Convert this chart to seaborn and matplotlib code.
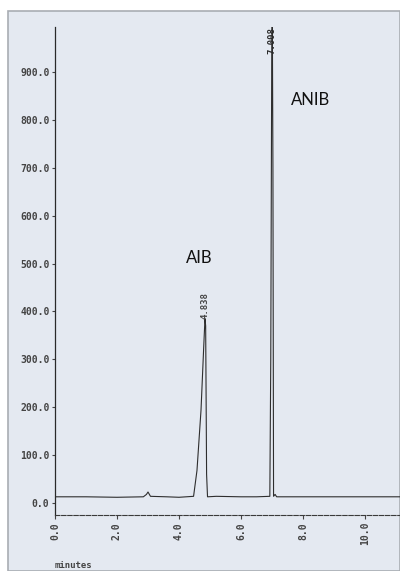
import matplotlib
matplotlib.use("Agg")
import matplotlib.pyplot as plt
import matplotlib.patches as mpatches
import seaborn as sns
import pandas as pd

# ---- data ----
time_min = [0.0, 1.0, 2.0, 2.85, 2.95, 3.0, 3.08, 3.6, 4.0, 4.47, 4.58, 4.71,
            4.80, 4.838, 4.86, 4.89, 4.92, 5.2, 6.0, 6.5, 6.93, 6.96, 6.99,
            7.008, 7.03, 7.05, 7.10, 7.15, 8.0, 9.0, 10.0, 11.2]
signal = [13, 13, 12, 13, 18, 23, 14, 13, 12, 14, 68, 194,
          330, 385, 370, 60, 13, 14, 13, 13, 14, 300, 900,
          1050, 700, 14, 18, 13, 13, 13, 13, 13]

peak_times = [4.838, 7.008]
peak_tags = ["4.838", "7.008"]
peak_heights = [385, 993]
compound_names = ["AIB", "ANIB"]
compound_pos_x = [4.65, 8.25]
compound_pos_y = [511, 841]

y_ticks = [0, 100, 200, 300, 400, 500, 600, 700, 800, 900]
x_ticks = [0, 2, 4, 6, 8, 10]

df = pd.DataFrame({"minutes": time_min, "signal": signal})

sns.set_style("ticks")
plt.rcParams["font.family"] = ["DejaVu Sans"]

W, H = 400, 571
fig = plt.figure(figsize=(W / 100, H / 100), dpi=100)
fig.patch.set_facecolor("white")

# scanned paper background
paper = mpatches.Rectangle((8 / W, 0), 1 - 8 / W, (H - 11) / H,
                           transform=fig.transFigure, facecolor="#e4e9f1",
                           edgecolor="#a9adb3", linewidth=1.2, zorder=-10)
fig.add_artist(paper)

ax = fig.add_axes([55 / W, (H - 515) / H, 1 - 55 / W, (515 - 27) / H])
ax.set_zorder(5)
ax.set_facecolor("none")

sns.lineplot(data=df, x="minutes", y="signal", ax=ax, estimator=None,
             sort=False, color="#2e2e2e", linewidth=0.8)

ax.set_xlim(0, (400 - 55) / 31.0)
ax.set_ylim(-25, 994)

mono = "DejaVu Sans Mono"
tick_col = "#444444"
ax.set_yticks(y_ticks)
ax.set_yticklabels([f"{v:.1f}" for v in y_ticks], fontfamily=mono,
                   fontsize=7, fontweight="bold", color=tick_col)
ax.set_xticks(x_ticks)
ax.set_xticklabels([f"{v:.1f}" for v in x_ticks], fontfamily=mono,
                   fontsize=7, fontweight="bold", color=tick_col,
                   rotation=90)
ax.tick_params(axis="y", length=2.5, width=0.8, pad=1.5, colors=tick_col)
ax.tick_params(axis="x", length=3, width=0.8, pad=2, colors=tick_col)
ax.set_xlabel("")
ax.set_ylabel("")

for s in ["top", "right"]:
    ax.spines[s].set_visible(False)
ax.spines["left"].set_color("#2a2a2a")
ax.spines["left"].set_linewidth(0.9)
ax.spines["bottom"].set_color("#3a3a3a")
ax.spines["bottom"].set_linewidth(0.8)
ax.spines["bottom"].set_linestyle((0, (4, 1.5)))

# retention-time tags over the peaks
ax.text(peak_times[0], peak_heights[0], peak_tags[0], rotation=90,
        ha="center", va="bottom", fontfamily=mono, fontsize=6.5,
        fontweight="bold", color=tick_col)
ax.text(peak_times[1], peak_heights[1], peak_tags[1], rotation=90,
        ha="center", va="top", fontfamily=mono, fontsize=6.5,
        fontweight="bold", color="#2a2a2a", clip_on=False)

for name, x, y in zip(compound_names, compound_pos_x, compound_pos_y):
    ax.text(x, y, name, ha="center", va="center", fontfamily="Lato",
            fontsize=12, color="#111111")

fig.text(55 / W, 1 - 565 / H, "minutes", ha="left", va="center",
         fontfamily=mono, fontsize=6.5, fontweight="bold", color=tick_col)

fig.savefig("out.png", dpi=100)
